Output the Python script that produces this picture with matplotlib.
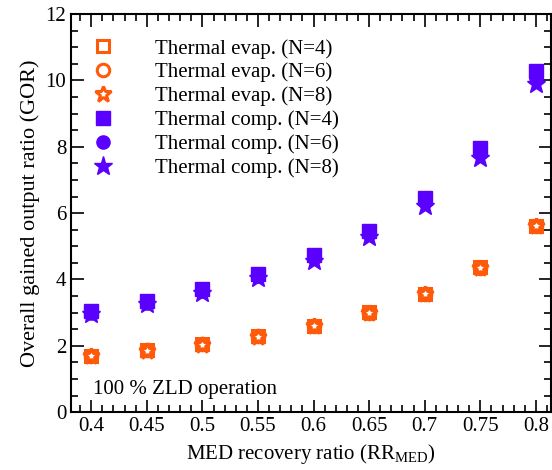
import matplotlib.pyplot as plt
from matplotlib.ticker import MultipleLocator

plt.rcParams['font.family'] = ['Liberation Serif', 'DejaVu Serif']
plt.rcParams['mathtext.fontset'] = 'custom'
plt.rcParams['mathtext.rm'] = 'Liberation Serif'

rr = [0.4, 0.45, 0.5, 0.55, 0.6, 0.65, 0.7, 0.75, 0.8]
rr_labels = ['0.4', '0.45', '0.5', '0.55', '0.6', '0.65', '0.7', '0.75', '0.8']

evap_n4 = [1.70, 1.87, 2.06, 2.30, 2.61, 3.01, 3.57, 4.37, 5.62]
evap_n6 = [1.69, 1.86, 2.05, 2.29, 2.60, 3.00, 3.56, 4.35, 5.61]
evap_n8 = [1.68, 1.85, 2.04, 2.28, 2.59, 2.99, 3.55, 4.34, 5.60]

comp_n4 = [3.05, 3.35, 3.72, 4.17, 4.73, 5.47, 6.47, 7.95, 10.28]
comp_n6 = [3.00, 3.30, 3.66, 4.10, 4.65, 5.37, 6.35, 7.80, 10.08]
comp_n8 = [2.95, 3.25, 3.60, 4.03, 4.57, 5.27, 6.23, 7.65, 9.88]

orange = '#ff5a0a'
purple = '#5a00ff'

fig, ax = plt.subplots(figsize=(5.52, 4.70), dpi=100)
fig.subplots_adjust(left=0.129, right=0.998, top=0.970, bottom=0.123)

# evaporator-driven cases: open markers
ax.plot(rr, evap_n4, 's', ms=9, mfc='none', mec=orange, mew=2.2, ls='none', label='Thermal evap. (N=4)')
ax.plot(rr, evap_n6, 'o', ms=9, mfc='none', mec=orange, mew=2.2, ls='none', label='Thermal evap. (N=6)')
ax.plot(rr, evap_n8, '*', ms=12, mfc='none', mec=orange, mew=2.2, ls='none', label='Thermal evap. (N=8)')
# compressor-driven cases: filled markers
ax.plot(rr, comp_n4, 's', ms=9.5, color=purple, ls='none', label='Thermal comp. (N=4)')
ax.plot(rr, comp_n6, 'o', ms=9.5, color=purple, ls='none', label='Thermal comp. (N=6)')
ax.plot(rr, comp_n8, '*', ms=14, color=purple, ls='none', label='Thermal comp. (N=8)')

ax.set_xlim(0.382, 0.8135)
ax.set_ylim(0, 12)
ax.set_xticks(rr)
ax.set_xticklabels(rr_labels)
ax.xaxis.set_minor_locator(MultipleLocator(0.01))
ax.yaxis.set_major_locator(MultipleLocator(2))
ax.yaxis.set_minor_locator(MultipleLocator(0.5))
ax.tick_params(which='both', direction='in', top=True, right=True, labelsize=15, width=1.2)
ax.tick_params(which='major', length=9)
ax.tick_params(which='minor', length=5)
for s in ax.spines.values():
    s.set_linewidth(1.5)

ax.set_xlabel(r'MED recovery ratio (RR$_\mathregular{MED}$)', fontsize=15)
ax.set_ylabel('Overall gained output ratio (GOR)', fontsize=16)

ax.text(0.402, 0.55, '100 % ZLD operation', fontsize=15)

ax.legend(loc='upper left', bbox_to_anchor=(0.023, 0.938), frameon=False, fontsize=15,
          handlelength=2.0, handletextpad=1.5, labelspacing=0.2,
          borderaxespad=0, borderpad=0)

plt.savefig('out.png', dpi=100)
